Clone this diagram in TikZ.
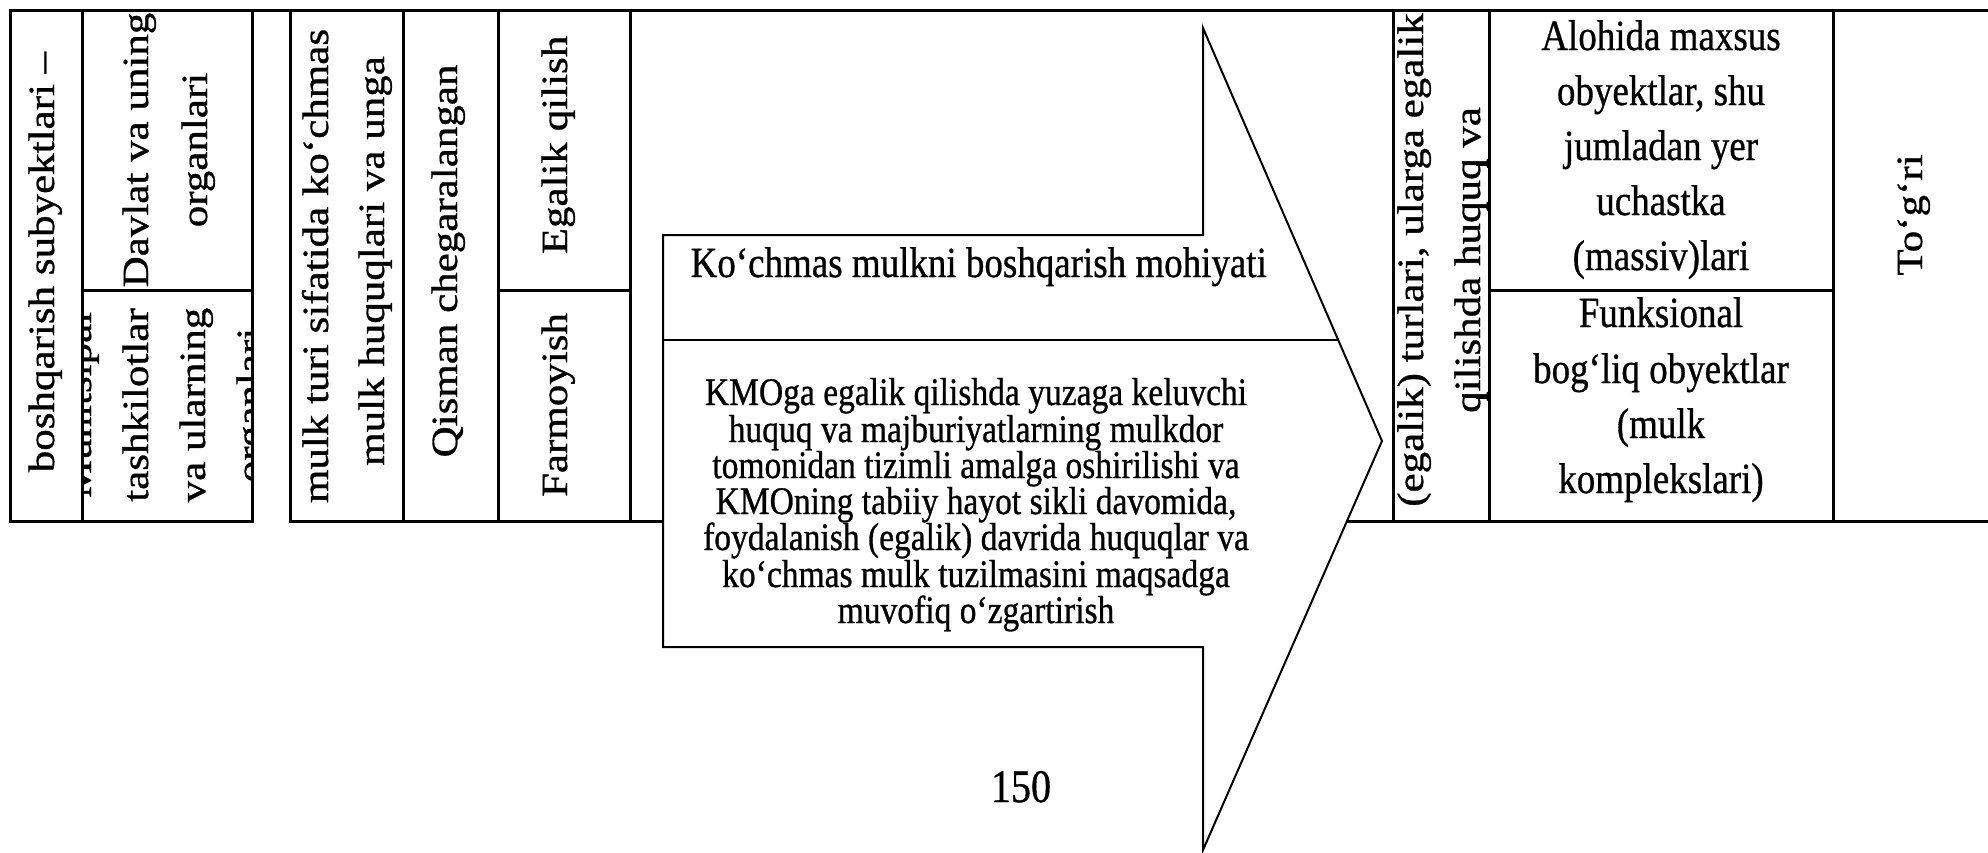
\documentclass[tikz,border=0pt]{standalone}
\usepackage{fontspec}
\setmainfont{Liberation Serif}
\newfontfamily\tabfont{Liberation Serif}[FakeBold=0.8]
\usepackage{graphicx}

% horizontal text is set slightly condensed; rotated text gets the same squeeze across its height
\newcommand{\hsq}[1]{\scalebox{0.86}[1]{#1}}
\newcommand{\vsq}[1]{\scalebox{1}[0.86]{#1}}

\begin{document}
\begin{tikzpicture}[x=0.3pt, y=-0.3pt,
  grid/.style={line width=0.9pt, line cap=rect},
  thin rule/.style={line width=0.6pt},
  arrowbox/.style={line width=0.6pt, fill=white, line join=miter},
  vtext/.style={rotate=90, anchor=base, inner sep=0pt, font=\tabfont\fontsize{12.9}{15}\selectfont},
  htext/.style={anchor=base, inner sep=0pt, font=\tabfont\fontsize{12.9}{15}\selectfont},
  btext/.style={anchor=base, inner sep=0pt, font=\tabfont\fontsize{11.7}{13}\selectfont}]

\useasboundingbox (0,0) rectangle (1988,852);

% ---- rotated cell texts (clipped to their cells) ----
\begin{scope}
  \clip (10,10) rectangle (82,521);
  \node[vtext] (subj) at (54,262) {\vsq{boshqarish subyektlari –}};
\end{scope}
\begin{scope}
  \clip (82,10) rectangle (252,290);
  \node[vtext] (davlat1) at (148,150) {\vsq{Davlat va uning}};
  \node[vtext] (davlat2) at (207,150) {\vsq{organlari}};
\end{scope}
\begin{scope}
  \clip (82,290) rectangle (252,521);
  \node[vtext] (mun0) at (91,405) {\vsq{Munitsipal}};
  \node[vtext] (mun1) at (148,405) {\vsq{tashkilotlar}};
  \node[vtext] (mun2) at (205,405) {\vsq{va ularning}};
  \node[vtext] (mun3) at (262,405) {\vsq{organlari}};
\end{scope}
\begin{scope}
  \clip (290,10) rectangle (403,521);
  \node[vtext] (turi1) at (328,266) {\vsq{mulk turi sifatida ko‘chmas}};
  \node[vtext] (turi2) at (384,261) {\vsq{mulk huquqlari va unga}};
\end{scope}
\node[vtext] (qisman) at (457,261) {\vsq{Qisman chegaralangan}};
\node[vtext] (egalik) at (567,145) {\vsq{Egalik qilish}};
\node[vtext] (farm) at (567,405) {\vsq{Farmoyish}};
\begin{scope}
  \clip (1393,10) rectangle (1489,521);
  \node[vtext] (eg1) at (1423,260) {\vsq{(egalik) turlari, ularga egalik}};
  \node[vtext] (eg2) at (1480,260) {\vsq{qilishda huquq va}};
\end{scope}
\node[vtext] (togri) at (1922,215) {\vsq{To‘g‘ri}};

% ---- horizontal cell texts ----
\node[htext] (al1) at (1661,50)  {\hsq{Alohida maxsus}};
\node[htext] (al2) at (1661,105) {\hsq{obyektlar, shu}};
\node[htext] (al3) at (1661,160) {\hsq{jumladan yer}};
\node[htext] (al4) at (1661,215) {\hsq{uchastka}};
\node[htext] (al5) at (1661,270) {\hsq{(massiv)lari}};
\node[htext] (fu1) at (1661,327) {\hsq{Funksional}};
\node[htext] (fu2) at (1661,383) {\hsq{bog‘liq obyektlar}};
\node[htext] (fu3) at (1661,438) {\hsq{(mulk}};
\node[htext] (fu4) at (1661,493) {\hsq{komplekslari)}};

% ---- table rules ----
\draw[grid] (10,10) -- (1988,10);
\draw[grid] (10,521) -- (252,521);
\draw[grid] (290,521) -- (1988,521);
\foreach \cx in {10,82,252,290,403,498,630,1393,1489,1833}
  \draw[grid] (\cx,10) -- (\cx,521);
\draw[grid] (82,290) -- (252,290);
\draw[grid] (498,290) -- (630,290);
\draw[grid] (1489,290) -- (1833,290);
% small frame marks beside the second rotated line
\draw[thin rule] (1476,165) -- (1489,165);
\draw[thin rule] (1476,398) -- (1489,398);

% ---- block arrow ----
\coordinate (abl) at (663,647);
\coordinate (atl) at (663,235);
\coordinate (htop) at (1203,28);
\coordinate (tip) at (1382,441);
\coordinate (hbot) at (1203,850);
\draw[arrowbox] (atl) -- (1203,235) -- (htop) -- (tip) -- (hbot) -- (1203,647) -- (abl) -- cycle;
\coordinate (dl) at (663,340);
\coordinate (dr) at (1338,340);
\draw[thin rule] (dl) -- (dr);

\node[htext, anchor=base west] (title) at (690,277) {\hsq{Ko‘chmas mulkni boshqarish mohiyati}};

\node[btext] (b1) at (976,405) {\hsq{KMOga egalik qilishda yuzaga keluvchi}};
\node[btext] (b2) at (976,442) {\hsq{huquq va majburiyatlarning mulkdor}};
\node[btext] (b3) at (976,478) {\hsq{tomonidan tizimli amalga oshirilishi va}};
\node[btext] (b4) at (976,514) {\hsq{KMOning tabiiy hayot sikli davomida,}};
\node[btext] (b5) at (976,550) {\hsq{foydalanish (egalik) davrida huquqlar va}};
\node[btext] (b6) at (976,587) {\hsq{ko‘chmas mulk tuzilmasini maqsadga}};
\node[btext] (b7) at (976,623) {\hsq{muvofiq o‘zgartirish}};

\node[htext, font=\tabfont\fontsize{14}{16}\selectfont] (page) at (1021,802) {\hsq{150}};
\end{tikzpicture}
\end{document}
